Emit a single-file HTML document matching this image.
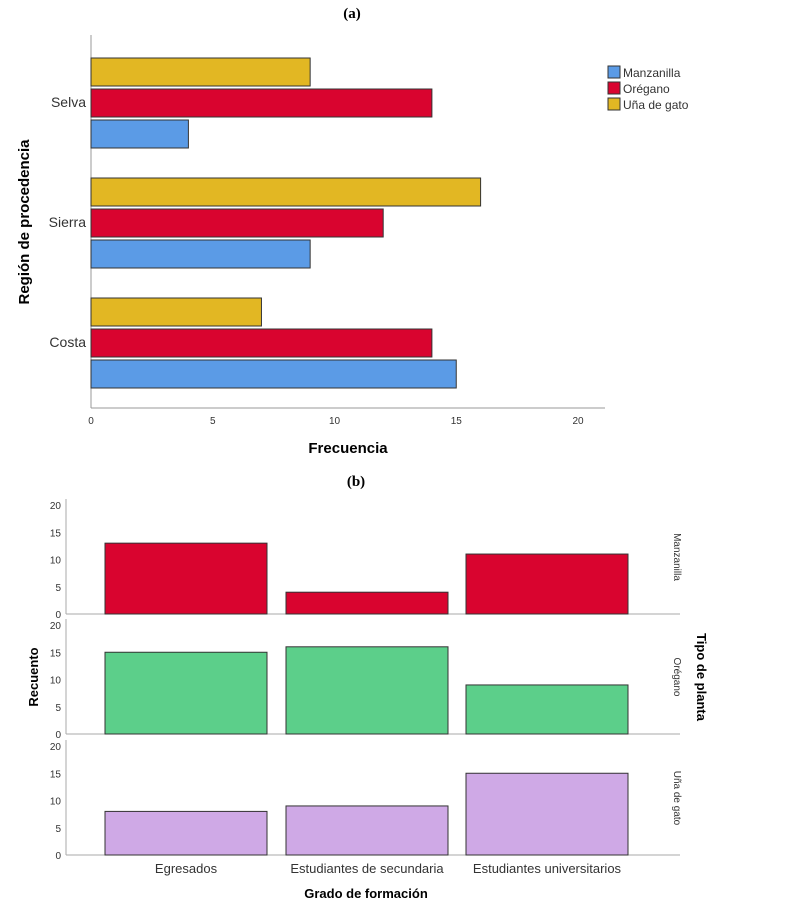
<!DOCTYPE html>
<html><head><meta charset="utf-8"><style>
body{margin:0;background:#fff;width:785px;height:905px;overflow:hidden}
svg{font-family:"Liberation Sans",sans-serif}
</style></head><body>
<svg id="c" width="785" height="905"></svg>
<script>
const regions=["Costa","Sierra","Selva"];
const plantsA=["Manzanilla","Orégano","Uña de gato"];
const manzA=[15,9,4];
const oregA=[14,12,14];
const unaA=[7,16,9];
const ticksA=[0,5,10,15,20];
const grades=["Egresados","Estudiantes de secundaria","Estudiantes universitarios"];
const manzB=[13,4,11];
const oregB=[15,16,9];
const unaB=[8,9,15];
const ticksB=[0,5,10,15,20];
const plantsB=["Manzanilla","Orégano","Uña de gato"];

const S=document.getElementById('c'),NS='http://www.w3.org/2000/svg';
function mk(t,a,txt,p){const e=document.createElementNS(NS,t);for(const k in a)e.setAttribute(k,a[k]);if(txt!=null)e.textContent=txt;(p||S).appendChild(e);return e;}
const cols=["#5b9be6","#d9042f","#e2b723"];
// chart a
const ax=v=>91+v*24.35;
const groupCenter=[342,222,102];
mk('text',{x:352,y:18,'font-size':15,'font-weight':'bold','font-family':'Liberation Serif','text-anchor':'middle',},'(a)');
mk('line',{x1:91,y1:35,x2:91,y2:408,stroke:'#999',});
mk('line',{x1:91,y1:408,x2:605,y2:408,stroke:'#999',});
ticksA.forEach(t=>{const e=mk('text',{x:ax(t),y:424,'font-size':10,'text-anchor':'middle',fill:'#333'},t);
});
const seriesA=[manzA,oregA,unaA];
regions.forEach((r,i)=>{const c=groupCenter[i];
 const l=mk('text',{x:86,y:c+5,'font-size':14,'text-anchor':'end',fill:'#333'},r);
 
 seriesA.forEach((s,j)=>{const y=c+16-j*31;
  const b=mk('rect',{x:91,y:y+2,width:ax(s[i])-91,height:28,fill:cols[j],stroke:'#333','stroke-width':1});
  });
});
mk('text',{x:348,y:453,'font-size':15,'font-weight':'bold','text-anchor':'middle',},'Frecuencia');
mk('text',{x:0,y:0,'font-size':15,'font-weight':'bold','text-anchor':'middle',transform:'translate(29,222) rotate(-90)',},'Región de procedencia');
plantsA.forEach((p,j)=>{const y=66+j*16;
 const r=mk('rect',{x:608,y:y,width:12,height:12,fill:cols[j],stroke:'#333'});
 const t=mk('text',{x:623,y:y+11,'font-size':12,fill:'#333'},p);});
// chart b
mk('text',{x:356,y:486,'font-size':15,'font-weight':'bold','font-family':'Liberation Serif','text-anchor':'middle',},'(b)');
const colsB=["#d9042f","#5ccf8a","#cfa9e6"];
const seriesB=[manzB,oregB,unaB];
const zeros=[614,734,855];
const by=(v,p)=>zeros[p]-v*5.45;
const bx=[105,286,466];
seriesB.forEach((s,p)=>{
 mk('line',{x1:66,y1:zeros[p]-115,x2:66,y2:zeros[p],stroke:'#aaa',});
 mk('line',{x1:66,y1:zeros[p],x2:680,y2:zeros[p],stroke:'#aaa',});
 ticksB.forEach(t=>{const e=mk('text',{x:61,y:by(t,p)+4,'font-size':10,'text-anchor':'end',fill:'#333'},t);
  });
 s.forEach((v,i)=>{const b=mk('rect',{x:bx[i],y:by(v,p),width:162,height:zeros[p]-by(v,p),fill:colsB[p],stroke:'#333'});
  });
 const t=mk('text',{x:0,y:0,'font-size':10,'text-anchor':'middle',fill:'#333',transform:'translate(674,'+(zeros[p]-57)+') rotate(90)'},plantsB[p]);
 
});
grades.forEach((g,i)=>{const e=mk('text',{x:bx[i]+81,y:873,'font-size':13,'text-anchor':'middle',fill:'#333'},g);
 });
mk('text',{x:366,y:898,'font-size':13,'font-weight':'bold','text-anchor':'middle',},'Grado de formación');
mk('text',{x:0,y:0,'font-size':13,'font-weight':'bold','text-anchor':'middle',transform:'translate(38,677) rotate(-90)',},'Recuento');
mk('text',{x:0,y:0,'font-size':13,'font-weight':'bold','text-anchor':'middle',transform:'translate(697,677) rotate(90)',},'Tipo de planta');
</script>
</body></html>
